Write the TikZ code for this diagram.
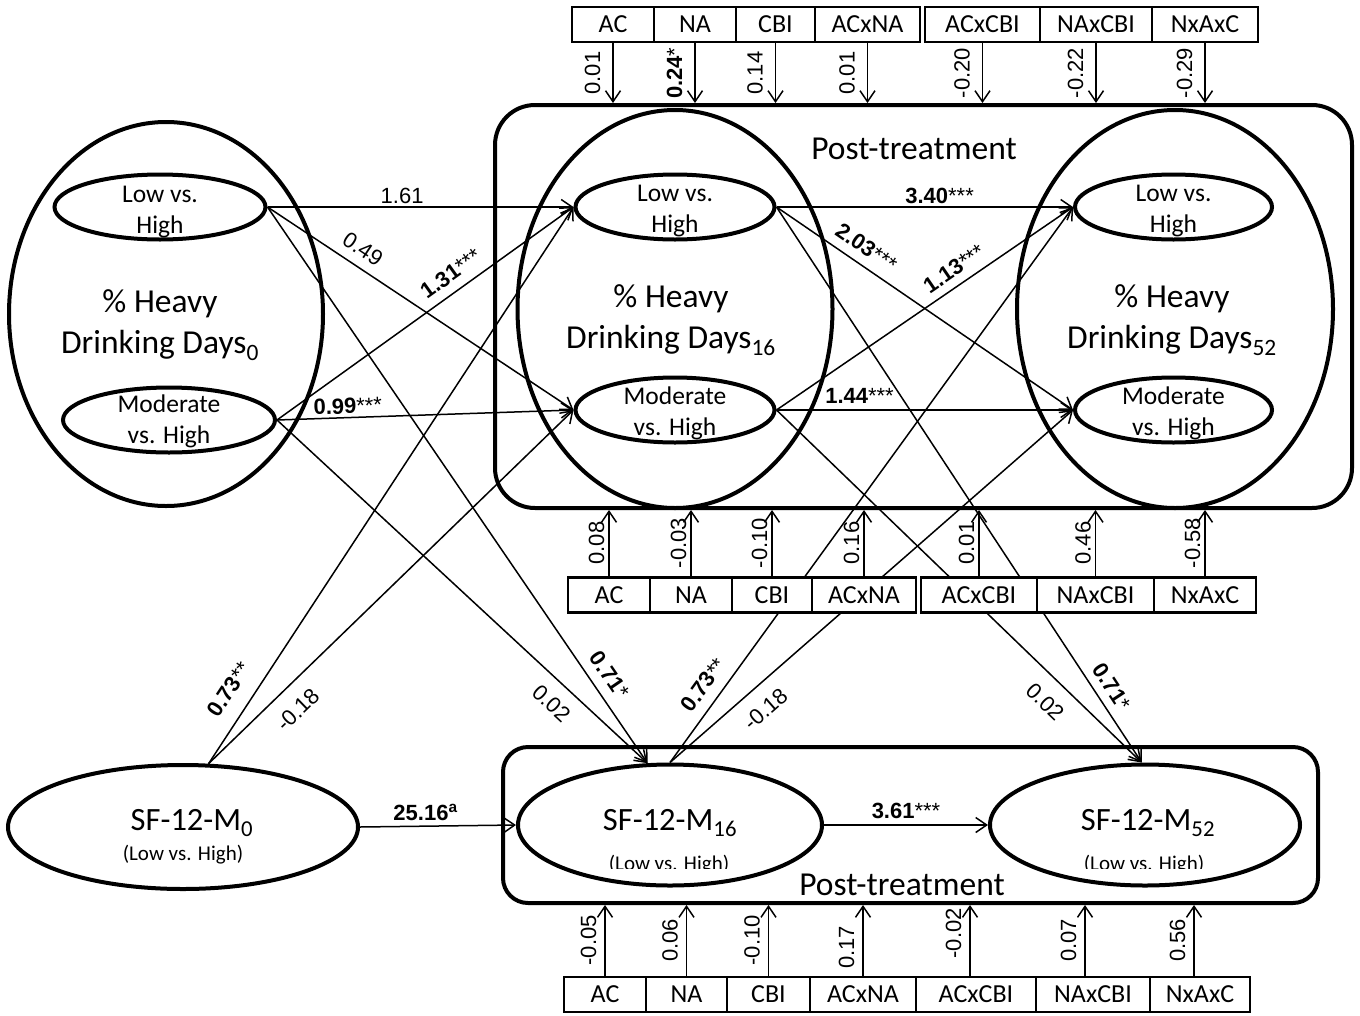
\documentclass[tikz,border=0pt]{standalone}
\usepackage{fontspec}
\setmainfont{Carlito}
\newfontfamily\arialf{Liberation Sans}
\usetikzlibrary{shapes.geometric,arrows.meta}
\begin{document}
\begin{tikzpicture}[x=1pt,y=-1pt,
  bigell/.style={ellipse,draw,line width=4pt,inner sep=0pt},
  inell/.style={ellipse,draw,line width=4pt,inner sep=0pt,minimum height=65pt},
  intext/.style={font=\fontsize{25.5}{31}\selectfont,align=center,inner sep=0pt},
  bigtext/.style={font=\fontsize{33.5}{41}\selectfont,align=center,inner sep=0pt},
  sfell/.style={ellipse,draw,line width=4pt,inner sep=0pt,minimum height=121pt},
  sfmain/.style={font=\fontsize{32.5}{38}\selectfont,anchor=base,inner sep=0pt},
  sfsub/.style={font=\fontsize{21}{25}\selectfont,anchor=base,inner sep=0pt},
  ptbox/.style={draw,line width=4pt,inner sep=0pt},
  ptlabel/.style={font=\fontsize{33.5}{38}\selectfont,inner sep=0pt},
  cbox/.style={draw,line width=2.5pt,fill=white,inner sep=0pt,minimum height=35pt,font=\fontsize{26}{30}\selectfont},
  arr/.style={line width=1.5pt,-{Straight Barb[length=11pt,width=15pt]}},
  lab/.style={font=\arialf\fontsize{22}{26}\selectfont,inner sep=3pt},
  vlab/.style={font=\arialf\fontsize{22}{26}\selectfont,rotate=90,anchor=south,inner sep=#1},
  vlab/.default=6pt,
]
\useasboundingbox (0,0) rectangle (1360,1015);

% post-treatment frames
\node[ptbox,rounded corners=40pt,minimum width=857pt,minimum height=403pt] (post1) at (923.5,306.5) {};
\node[ptbox,rounded corners=25pt,minimum width=815pt,minimum height=156pt] (post2) at (910.5,825) {};
\node[ptlabel] (pt1) at (914,149) {Post-treatment};
\node[ptlabel] (pt2) at (902,885) {Post-treatment};

% big ellipses
\node[bigell,minimum width=314pt,minimum height=384pt] (hdd0) at (166,314) {};
\node[bigell,minimum width=315pt,minimum height=398pt] (hdd16) at (675,309) {};
\node[bigell,minimum width=316pt,minimum height=398pt] (hdd52) at (1175,309) {};
\node[bigtext] (hdd0t) at (160,325) {\% Heavy\\Drinking Days\textsubscript{0}};
\node[bigtext] (hdd16t) at (671,320) {\% Heavy\\Drinking Days\textsubscript{16}};
\node[bigtext] (hdd52t) at (1172,320) {\% Heavy\\Drinking Days\textsubscript{52}};

% inner ellipses
\node[inell,minimum width=211pt] (L0) at (160,207) {};
\node[intext] (L0t) at (160,212) {Low vs.\\High};
\node[inell,minimum width=212pt] (M0) at (169,420) {};
\node[intext] (M0t) at (169,421) {Moderate\\vs. High};
\node[inell,minimum width=199pt] (L16) at (675,207) {};
\node[intext] (L16t) at (675,211) {Low vs.\\High};
\node[inell,minimum width=199pt] (M16) at (675,410) {};
\node[intext] (M16t) at (675,413) {Moderate\\vs. High};
\node[inell,minimum width=197pt] (L52) at (1173.5,207) {};
\node[intext] (L52t) at (1173.5,211) {Low vs.\\High};
\node[inell,minimum width=197pt] (M52) at (1173.5,410) {};
\node[intext] (M52t) at (1173.5,413) {Moderate\\vs. High};

% SF-12 ellipses
\node[sfell,minimum width=350pt,minimum height=124pt] (SF0) at (183,827) {};
\node[sfell,minimum width=304pt] (SF16) at (670,825) {};
\node[sfell,minimum width=310pt] (SF52) at (1145,825) {};
\node[sfmain] (SF0a) at (192,830) {SF-12-M\textsubscript{0}};
\node[sfsub] (SF0b) at (183,860) {(Low vs. High)};
\node[sfmain] (SF16a) at (670,830) {SF-12-M\textsubscript{16}};
\node[sfmain] (SF52a) at (1148,830) {SF-12-M\textsubscript{52}};
\begin{scope}
\clip (500,740) rectangle (1320,868);
\node[sfsub] (SF16b) at (669,870) {(Low vs. High)};
\node[sfsub] (SF52b) at (1144,870) {(Low vs. High)};
\end{scope}

% connectors baseline -> 16
\draw[arr] (L0.east) -- node[lab,pos=0.44,above] {1.61} (L16.west);
\draw[arr] (L0.east) -- node[lab,sloped,pos=0.28,above,inner sep=9pt] {0.49} (M16.west);
\draw[arr] (L0.east) -- node[lab,sloped,pos=0.86,above,inner sep=10pt] {\textbf{0.71}*} (SF16.110);
\draw[arr] (M0.east) -- node[lab,sloped,pos=0.62,above,inner sep=9pt] {\textbf{1.31}***} (L16.west);
\draw[arr] (M0.east) -- node[lab,sloped,pos=0.24,above] {\textbf{0.99}***} (M16.west);
\draw[arr] (M0.east) -- node[lab,sloped,pos=0.78,below,inner sep=13pt] {0.02} (SF16.110);
\draw[arr] (SF0.68) -- node[lab,sloped,pos=0.11,above,inner sep=15pt] {\textbf{0.73}**} (L16.west);
\draw[arr] (SF0.68) -- node[lab,sloped,pos=0.2,below,inner sep=15pt] {-0.18} (M16.west);
\draw[arr] (SF0.east) -- node[lab,pos=0.42,above,inner sep=5pt] {\textbf{25.16\textsuperscript{a}}} (SF16.west);

% connectors 16 -> 52
\draw[arr] (L16.east) -- node[lab,pos=0.55,above] {\textbf{3.40}***} (L52.west);
\draw[arr] (L16.east) -- node[lab,sloped,pos=0.27,above,inner sep=9pt] {\textbf{2.03}***} (M52.west);
\draw[arr] (L16.east) -- node[lab,sloped,pos=0.88,above,inner sep=8pt] {\textbf{0.71}*} (SF52.93);
\draw[arr] (M16.east) -- node[lab,sloped,pos=0.63,above,inner sep=8pt] {\textbf{1.13}***} (L52.west);
\draw[arr] (M16.east) -- node[lab,sloped,pos=0.28,above,inner sep=6pt] {\textbf{1.44}***} (M52.west);
\draw[arr] (M16.east) -- node[lab,sloped,pos=0.78,below,inner sep=15pt] {0.02} (SF52.93);
\draw[arr] (SF16.north) -- node[lab,sloped,pos=0.12,above,inner sep=10pt] {\textbf{0.73}**} (L52.west);
\draw[arr] (SF16.north) -- node[lab,sloped,pos=0.2,below,inner sep=14pt] {-0.18} (M52.west);
\draw[arr] (SF16.east) -- node[lab,pos=0.5,above,inner sep=6pt] {\textbf{3.61}***} (SF52.west);

% top covariate boxes
\node[cbox,minimum width=82pt] (tAC) at (613,24.5) {AC};
\node[cbox,minimum width=82pt] (tNA) at (695,24.5) {NA};
\node[cbox,minimum width=79pt] (tCBI) at (775.5,24.5) {CBI};
\node[cbox,minimum width=105pt] (tACNA) at (867.5,24.5) {ACxNA};
\node[cbox,minimum width=115pt] (tACCBI) at (982.5,24.5) {ACxCBI};
\node[cbox,minimum width=112pt] (tNACBI) at (1096,24.5) {NAxCBI};
\node[cbox,minimum width=106pt] (tNAC) at (1205,24.5) {NxAxC};

% middle covariate boxes
\node[cbox,minimum width=82pt] (mAC) at (609,595) {AC};
\node[cbox,minimum width=82pt] (mNA) at (691,595) {NA};
\node[cbox,minimum width=80pt] (mCBI) at (772,595) {CBI};
\node[cbox,minimum width=104pt] (mACNA) at (864,595) {ACxNA};
\node[cbox,minimum width=116pt] (mACCBI) at (979,595) {ACxCBI};
\node[cbox,minimum width=117pt] (mNACBI) at (1095.5,595) {NAxCBI};
\node[cbox,minimum width=102pt] (mNAC) at (1205,595) {NxAxC};

% bottom covariate boxes
\node[cbox,minimum width=82pt] (bAC) at (605,994.5) {AC};
\node[cbox,minimum width=81pt] (bNA) at (686.5,994.5) {NA};
\node[cbox,minimum width=83pt] (bCBI) at (768.5,994.5) {CBI};
\node[cbox,minimum width=106pt] (bACNA) at (863,994.5) {ACxNA};
\node[cbox,minimum width=120pt] (bACCBI) at (976,994.5) {ACxCBI};
\node[cbox,minimum width=114pt] (bNACBI) at (1093,994.5) {NAxCBI};
\node[cbox,minimum width=100pt] (bNAC) at (1200,994.5) {NxAxC};

% top arrows
\draw[arr] (tAC.south) -- node[vlab=12pt] {0.01} (tAC.south |- post1.north);
\draw[arr] (tNA.south) -- node[vlab=12pt] {\textbf{0.24}*} (tNA.south |- post1.north);
\draw[arr] (tCBI.south) -- node[vlab=12pt] {0.14} (tCBI.south |- post1.north);
\draw[arr] (tACNA.south) -- node[vlab=12pt] {0.01} (tACNA.south |- post1.north);
\draw[arr] (tACCBI.south) -- node[vlab=12pt] {-0.20} (tACCBI.south |- post1.north);
\draw[arr] (tNACBI.south) -- node[vlab=12pt] {-0.22} (tNACBI.south |- post1.north);
\draw[arr] (tNAC.south) -- node[vlab=12pt] {-0.29} (tNAC.south |- post1.north);

% middle arrows
\draw[arr] (mAC.north) -- node[vlab=4pt] {0.08} (mAC.north |- post1.south);
\draw[arr] (mNA.north) -- node[vlab=4pt] {-0.03} (mNA.north |- post1.south);
\draw[arr] (mCBI.north) -- node[vlab=4pt] {-0.10} (mCBI.north |- post1.south);
\draw[arr] (mACNA.north) -- node[vlab=4pt] {0.16} (mACNA.north |- post1.south);
\draw[arr] (mACCBI.north) -- node[vlab=4pt] {0.01} (mACCBI.north |- post1.south);
\draw[arr] (mNACBI.north) -- node[vlab=4pt] {0.46} (mNACBI.north |- post1.south);
\draw[arr] (mNAC.north) -- node[vlab=4pt] {-0.58} (mNAC.north |- post1.south);

% bottom arrows
\coordinate (bx5) at ([xshift=-6pt]bACCBI.north);
\coordinate (bx6) at ([xshift=-8pt]bNACBI.north);
\coordinate (bx7) at ([xshift=-6pt]bNAC.north);
\draw[arr] (bAC.north) -- node[vlab=8pt] {-0.05} (bAC.north |- post2.south);
\draw[arr] (bNA.north) -- node[vlab=8pt] {0.06} (bNA.north |- post2.south);
\draw[arr] (bCBI.north) -- node[vlab=8pt] {-0.10} (bCBI.north |- post2.south);
\draw[arr] (bACNA.north) -- node[vlab=8pt,pos=0.4] {0.17} (bACNA.north |- post2.south);
\draw[arr] (bx5) -- node[vlab=8pt,pos=0.6] {-0.02} (bx5 |- post2.south);
\draw[arr] (bx6) -- node[vlab=8pt] {0.07} (bx6 |- post2.south);
\draw[arr] (bx7) -- node[vlab=8pt] {0.56} (bx7 |- post2.south);
\end{tikzpicture}
\end{document}
